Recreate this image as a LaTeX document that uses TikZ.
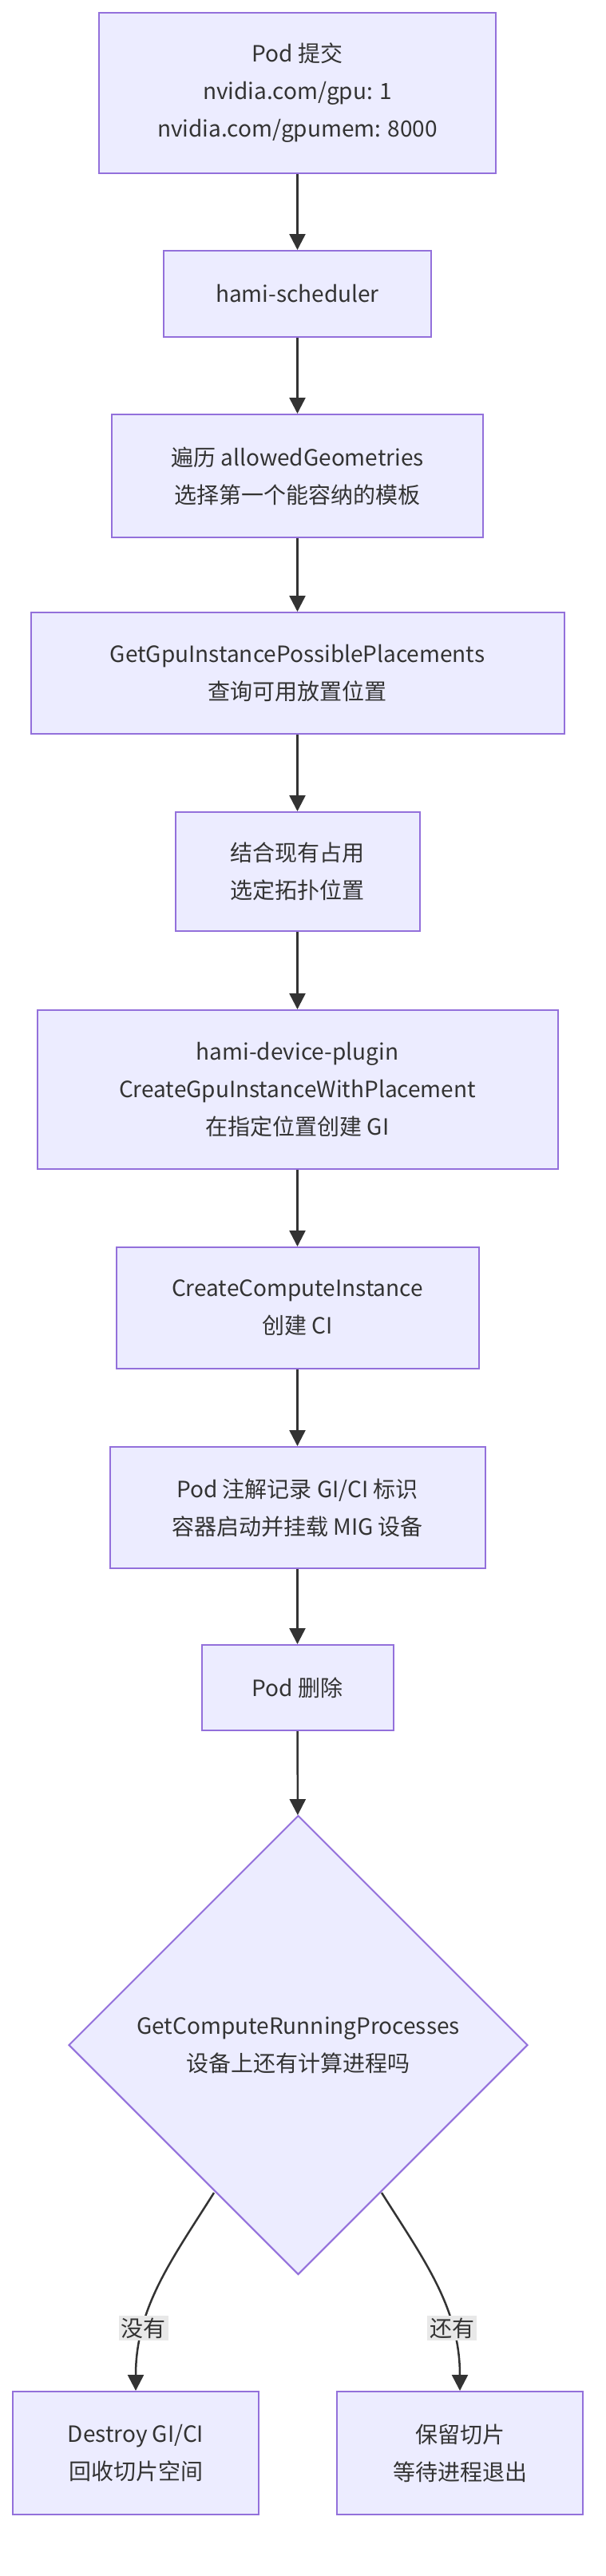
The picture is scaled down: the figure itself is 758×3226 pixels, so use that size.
\documentclass[tikz,border=0pt]{standalone}
\usepackage{fontspec}
\setmainfont{Noto Sans CJK SC}
\usetikzlibrary{shapes.geometric,arrows.meta}
\definecolor{boxfill}{HTML}{ECECFF}
\definecolor{boxline}{HTML}{9370DB}
\definecolor{edgeline}{HTML}{333333}
\definecolor{lblfill}{HTML}{E8E8E8}
\tikzset{
  stage/.style={draw=boxline, fill=boxfill, line width=2pt, align=center, inner sep=0pt,
    font=\fontsize{28}{47}\selectfont, text=edgeline},
  flow/.style={draw=edgeline, line width=2.5pt, -{Triangle[length=20pt,width=20pt]}},
  lbl/.style={fill=lblfill, font=\fontsize{28}{34}\selectfont, text=edgeline, inner sep=3pt}
}
\begin{document}
\begin{tikzpicture}[x=1pt, y=-1pt]
  \useasboundingbox (0,0) rectangle (758,3226);
  \node [stage, minimum width=497, minimum height=201] (pod) at (372.5,116.5) {Pod 提交\\nvidia.com/gpu: 1\\nvidia.com/gpumem: 8000};
  \node [stage, minimum width=335, minimum height=108] (sched) at (372.5,368) {hami-scheduler};
  \node [stage, minimum width=465, minimum height=154] (geo) at (372.5,596) {遍历 allowedGeometries\\选择第一个能容纳的模板};
  \node [stage, minimum width=668, minimum height=152] (place) at (372.5,843) {GetGpuInstancePossiblePlacements\\查询可用放置位置};
  \node [stage, minimum width=306, minimum height=149] (pick) at (372.5,1091.5) {结合现有占用\\选定拓扑位置};
  \node [stage, minimum width=652, minimum height=199] (plugin) at (372.5,1364.5) {hami-device-plugin\\CreateGpuInstanceWithPlacement\\在指定位置创建 GI};
  \node [stage, minimum width=454, minimum height=152] (ci) at (372.5,1638) {CreateComputeInstance\\创建 CI};
  \node [stage, minimum width=470, minimum height=152] (anno) at (372.5,1888) {Pod 注解记录 GI/CI 标识\\容器启动并挂载 MIG 设备};
  \node [stage, minimum width=240, minimum height=107] (del) at (372.5,2113.5) {Pod 删除};
  \node [stage, shape=diamond, aspect=1, minimum width=575, minimum height=575] (check) at (373.5,2561) {GetComputeRunningProcesses\\设备上还有计算进程吗};
  \node [stage, minimum width=308, minimum height=154] (destroy) at (170,3072) {Destroy GI/CI\\回收切片空间};
  \node [stage, minimum width=308, minimum height=154] (keep) at (576,3072) {保留切片\\等待进程退出};

  \draw [flow] (pod) -- (sched);
  \draw [flow] (sched) -- (geo);
  \draw [flow] (geo) -- (place);
  \draw [flow] (place) -- (pick);
  \draw [flow] (pick) -- (plugin);
  \draw [flow] (plugin) -- (ci);
  \draw [flow] (ci) -- (anno);
  \draw [flow] (anno) -- (del);
  \draw [flow] (del) -- (check);

  \coordinate (noout) at (268,2746);
  \coordinate (yesout) at (478,2746);
  \draw [flow] (noout) .. controls (215,2830) and (170,2890) .. (destroy.north)
    node [lbl, pos=0.72] {没有};
  \draw [flow] (yesout) .. controls (531,2830) and (576,2890) .. (keep.north)
    node [lbl, pos=0.72] {还有};
\end{tikzpicture}
\end{document}
